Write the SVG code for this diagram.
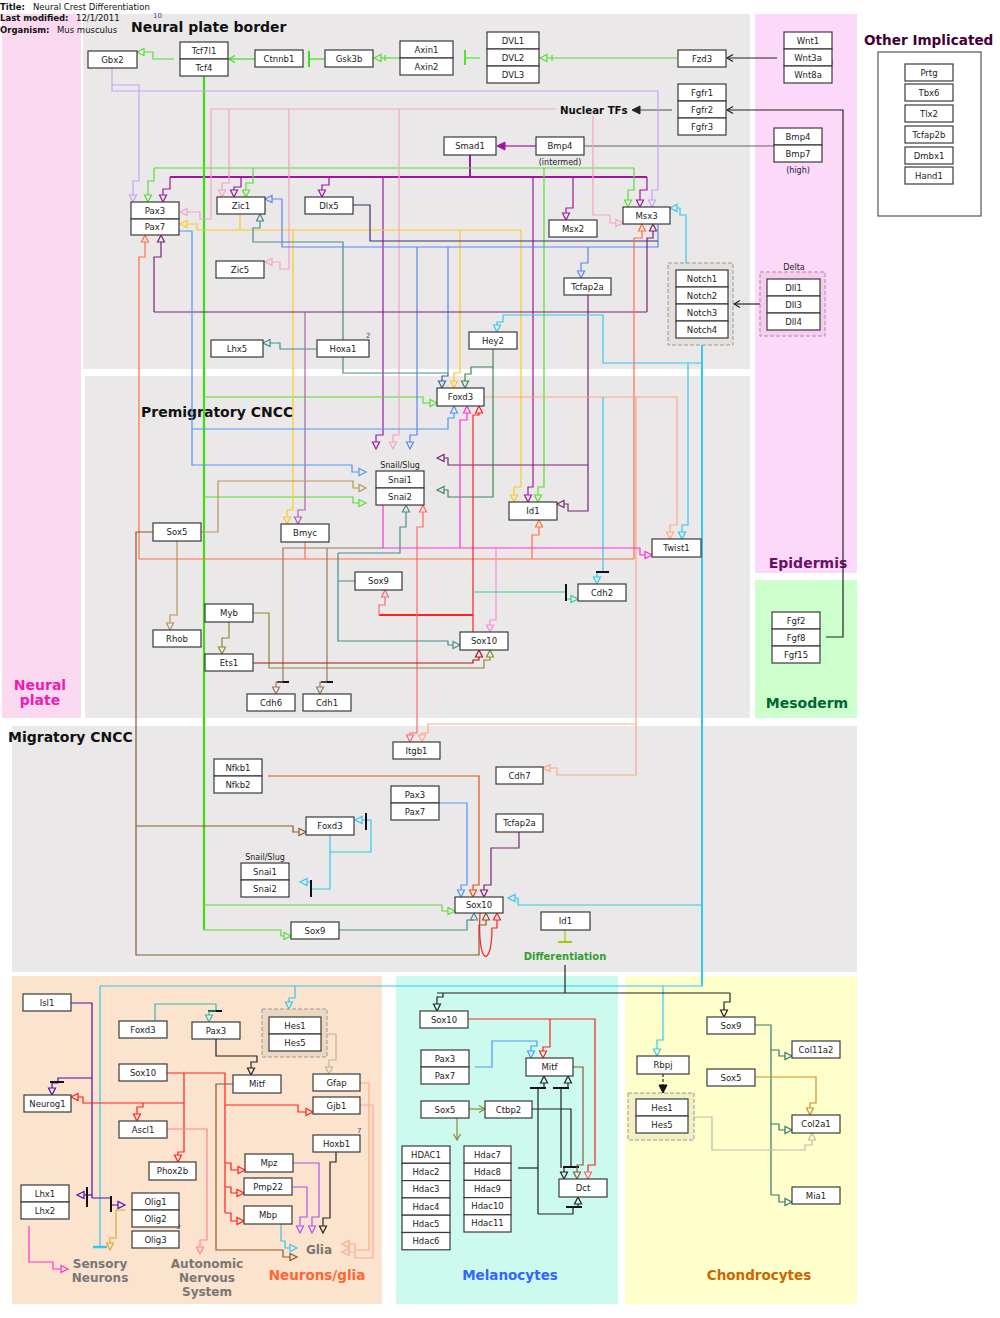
<svg xmlns="http://www.w3.org/2000/svg" xmlns:xlink="http://www.w3.org/1999/xlink" width="1000" height="1318" viewBox="0 0 1000 1318">
<style>
  .bg{stroke:none}
  .b{fill:#fff;stroke:#3a3a3a;stroke-width:1.2}
  .grp{stroke:#999;stroke-width:1;stroke-dasharray:4,2}
  .l{font-family:"DejaVu Sans",sans-serif;font-size:8.5px;fill:#222;text-anchor:middle}
  .s{font-family:"DejaVu Sans",sans-serif;font-size:8px;fill:#222;text-anchor:middle}
  .num{font-family:"DejaVu Sans",sans-serif;font-size:7px;fill:#4444aa}
  .h{font-family:"DejaVu Sans",sans-serif;font-size:8.5px;fill:#111}
  .hb{font-weight:bold}
  .t{font-family:"DejaVu Sans",sans-serif;font-size:14px;font-weight:bold;fill:#111}
  .big{font-family:"DejaVu Sans",sans-serif;font-weight:bold;text-anchor:middle}
  .w{fill:none;stroke-width:1.2}
  .a{fill:none;stroke-width:1.2}
  .tb{stroke:#111;stroke-width:2}
  .k-grn{stroke:#55e033}.k-gtr{stroke:#3ddc14}.k-lav{stroke:#c8a2f2}.k-pnk{stroke:#f4a3c6}
  .k-pur{stroke:#a0179f}.k-dpu{stroke:#7b2377}.k-mau{stroke:#a866a8}.k-yel{stroke:#ffc81e}
  .k-tea{stroke:#4a8c8c}.k-stl{stroke:#2f6b9a}.k-blu{stroke:#5b85f0}.k-lbl{stroke:#4a9af5}
  .k-nav{stroke:#333377}.k-ora{stroke:#ff7043}.k-pch{stroke:#ffa883}.k-cya{stroke:#33c8f0}
  .k-dgr{stroke:#3a8a5a}.k-mag{stroke:#ff33cc}.k-lpk{stroke:#ff88dd}.k-red{stroke:#ff2020}
  .k-lrd{stroke:#ff6a6a}.k-tan{stroke:#b8935e}.k-brn{stroke:#8b5a2b}.k-bgr{stroke:#9a7a5a}
  .k-oli{stroke:#8a8a30}.k-drd{stroke:#b01515}.k-tgr{stroke:#33cc99}.k-ind{stroke:#4b10b0}
  .k-gld{stroke:#ddaa33}.k-apk{stroke:#ff8899}.k-vio{stroke:#a855f7}.k-blk{stroke:#222}
  .k-gyt{stroke:#c0b496}.k-ctl{stroke:#2f7a6a}.k-cgd{stroke:#cc9033}.k-nfk{stroke:#dd5511}
  .k-ygr{stroke:#a6c800}.k-gry{stroke:#666}.k-fte{stroke:#33bbaa}.k-pc2{stroke:#ffa899}
</style>
<defs>
  <!-- open triangle heads, tip at origin -->
  <path id="ad" d="M0,0 L-3.5,-7 L3.5,-7 Z"/>
  <path id="au" d="M0,0 L-3.5,7 L3.5,7 Z"/>
  <path id="ar" d="M0,0 L-7,-3.5 L-7,3.5 Z"/>
  <path id="al" d="M0,0 L7,-3.5 L7,3.5 Z"/>
  <!-- line (chevron) heads -->
  <path id="cl" d="M6,-3.5 L0,0 L6,3.5"/>
  <path id="cr" d="M-6,-3.5 L0,0 L-6,3.5"/>
  <path id="cd" d="M-3.5,-6 L0,0 L3.5,-6"/>
  <!-- filled heads -->
  <path id="fl" d="M0,0 L8,-4 L8,4 Z"/>
  <path id="fd" d="M0,0 L-4,-8 L4,-8 Z"/>
</defs>

<!-- ===== compartments ===== -->
<g id="compartments">
  <rect class="bg" x="2" y="14" width="79" height="704" fill="#fad9f0"/>
  <rect class="bg" x="83" y="14" width="667" height="355" fill="#ebe8e9"/>
  <rect class="bg" x="85" y="376" width="665" height="342" fill="#ebe8e9"/>
  <rect class="bg" x="755" y="14" width="102" height="559" fill="#fcd8fa"/>
  <rect class="bg" x="755" y="580" width="102" height="138" fill="#ccffcc"/>
  <rect class="bg" x="12" y="726" width="845" height="246" fill="#ebe8e9"/>
  <rect class="bg" x="12" y="976" width="370" height="328" fill="#fbe3cd"/>
  <rect class="bg" x="396" y="976" width="222" height="328" fill="#ccfaee"/>
  <rect class="bg" x="625" y="976" width="232" height="328" fill="#ffffcc"/>
</g>

<!-- ===== header and compartment labels ===== -->
<g id="labels">
  <text class="h" x="0" y="10"><tspan class="hb">Title:</tspan><tspan x="33">Neural Crest Differentiation</tspan></text>
  <text class="h" x="0" y="21"><tspan class="hb">Last modified:</tspan><tspan x="76">12/1/2011</tspan></text>
  <text class="h" x="0" y="33"><tspan class="hb">Organism:</tspan><tspan x="57">Mus musculus</tspan></text>
  <text class="num" x="153" y="18">10</text>
  <text class="t" x="131" y="32">Neural plate border</text>
  <text class="t" x="141" y="417">Premigratory CNCC</text>
  <text class="t" x="8" y="742">Migratory CNCC</text>
  <text class="t" x="864" y="45" style="fill:#440033;font-size:13.6px">Other Implicated</text>
  <text class="big" x="40" y="690" font-size="14" fill="#f01ab4">Neural</text>
  <text class="big" x="40" y="705" font-size="14" fill="#f01ab4">plate</text>
  <text class="big" x="808" y="568" font-size="14" fill="#661166">Epidermis</text>
  <text class="big" x="807" y="708" font-size="14" fill="#006633">Mesoderm</text>
  <text class="big" x="565" y="960" font-size="10" fill="#2ea02e">Differentiation</text>
  <text class="big" x="100" y="1268" font-size="12" fill="#777">Sensory</text>
  <text class="big" x="100" y="1282" font-size="12" fill="#777">Neurons</text>
  <text class="big" x="207" y="1268" font-size="12" fill="#777">Autonomic</text>
  <text class="big" x="207" y="1282" font-size="12" fill="#777">Nervous</text>
  <text class="big" x="207" y="1296" font-size="12" fill="#777">System</text>
  <text class="big" x="319" y="1254" font-size="12" fill="#777">Glia</text>
  <text class="big" x="317" y="1280" font-size="13.5" fill="#ff6633">Neurons/glia</text>
  <text class="big" x="510" y="1280" font-size="13.5" fill="#3366ff">Melanocytes</text>
  <text class="big" x="759" y="1280" font-size="13.5" fill="#cc6600">Chondrocytes</text>
  <text class="t" x="560" y="114" style="font-size:10.2px">Nuclear TFs</text>
  <text class="s" x="560" y="165">(intermed)</text>
  <text class="s" x="798" y="173">(high)</text>
  <text class="s" x="794" y="270">Delta</text>
  <text class="s" x="400" y="468">Snail/Slug</text>
  <text class="s" x="265" y="860">Snail/Slug</text>
  <text class="num" x="829" y="64">4</text>
  <text class="num" x="366" y="338">2</text>
  <text class="num" x="950" y="61">5</text>
  <text class="num" x="950" y="82">8</text>
  <text class="num" x="950" y="103">3</text>
  <text class="num" x="950" y="124">1</text>
  <text class="num" x="950" y="145">5</text>
  <text class="num" x="950" y="166">6</text>
  <text class="num" x="357" y="1133">7</text>
  <text class="num" x="176" y="1229">9</text>
</g>

<!-- ===== connectors ===== -->
<g id="connectors">
  <!-- Wnt pathway -->
  <path class="w k-grn" d="M174,59 H153 V52 H144"/><use href="#al" x="137" y="52" class="a k-grn"/>
  <path class="w k-gtr" d="M255,59 H229"/><use href="#cl" x="229" y="59" class="a k-gtr"/>
  <path class="w k-gtr" d="M325,59 H309"/><line x1="309" y1="51" x2="309" y2="67" stroke="#3ddc14" stroke-width="2"/>
  <path class="w k-grn" d="M400,58 H381"/><use href="#al" x="374" y="58" class="a k-grn"/><line x1="385" y1="55" x2="385" y2="61" class="w k-grn"/>
  <path class="w k-grn" d="M480,58 H466"/><line x1="465" y1="50" x2="465" y2="65" stroke="#55e033" stroke-width="2"/>
  <path class="w k-grn" d="M678,58 H547"/><use href="#al" x="540" y="58" class="a k-grn"/><line x1="552" y1="55" x2="552" y2="61" class="w k-grn"/>
  <path class="w k-blk" d="M777,58 H727"/><use href="#cl" x="727" y="58" class="a k-blk"/>
  <path class="w k-blk" d="M826,637 H843 V110 H727"/><use href="#cl" x="727" y="110" class="a k-blk"/>
  <path class="w k-gry" d="M672,110 H640"/><use href="#fl" x="632" y="110" fill="#222" stroke="#222"/>
  <path class="w k-gry" d="M774,146 H584"/>
  <path class="w k-pur" d="M536,146 H505"/><use href="#fl" x="497" y="146" fill="#a0179f" stroke="#a0179f"/>
  <path class="w k-blk" d="M760,304 H734"/><use href="#cl" x="734" y="304" class="a k-blk"/>

  <!-- Smad1 targets -->
  <path class="w k-pur" style="stroke-width:2" d="M470,155 V177 M170,177 H647"/>
  <path class="w k-pur" d="M170,177 V189 H163 V195"/><use href="#ad" x="163" y="202" class="a k-pur"/>
  <path class="w k-pur" d="M241,177 V187 H234 V190"/><use href="#ad" x="234" y="197" class="a k-pur"/>
  <path class="w k-pur" d="M329,177 V185 H322 V190"/><use href="#ad" x="322" y="197" class="a k-pur"/>
  <path class="w k-pur" d="M573,177 V208 H566 V213"/><use href="#ad" x="566" y="220" class="a k-pur"/>
  <path class="w k-pur" d="M647,177 V190 H640 V200"/><use href="#ad" x="640" y="207" class="a k-pur"/>
  <path class="w k-pur" d="M383,177 V435 H376 V442"/><use href="#ad" x="376" y="449" class="a k-pur"/>
  <path class="w k-pur" d="M533,177 V487 H528 V495"/><use href="#ad" x="528" y="502" class="a k-pur"/>

  <!-- canonical Wnt output (Tcf) -->
  <path class="w k-gtr" style="stroke-width:2.2" d="M204,76 V930"/>
  <path class="w k-grn" d="M154,168 H634"/>
  <path class="w k-grn" d="M154,168 V181 H148 V195"/><use href="#ad" x="148" y="202" class="a k-grn"/>
  <path class="w k-grn" d="M253,168 V183 H246 V190"/><use href="#ad" x="246" y="197" class="a k-grn"/>
  <path class="w k-grn" d="M634,168 V190 H628 V200"/><use href="#ad" x="628" y="207" class="a k-grn"/>
  <path class="w k-grn" d="M544,168 V487 H538 V495"/><use href="#ad" x="538" y="502" class="a k-grn"/>
  <path class="w k-grn" d="M204,397 H423 V403 H430"/><use href="#ar" x="437" y="403" class="a k-grn"/>
  <path class="w k-grn" d="M204,497 H353 V503 H359"/><use href="#ar" x="366" y="503" class="a k-grn"/>
  <path class="w k-grn" d="M204,905 H442 V911 H448"/><use href="#ar" x="455" y="911" class="a k-grn"/>
  <path class="w k-grn" d="M204,930 H281 V936 H284"/><use href="#ar" x="291" y="936" class="a k-grn"/>

  <!-- Gbx2 -->
  <path class="w k-lav" d="M112,68 V91 H658 V190 H652 V200"/><use href="#ad" x="652" y="207" class="a k-lav"/>
  <path class="w k-lav" d="M112,85 H139 V181 H133 V195"/><use href="#ad" x="133" y="202" class="a k-lav"/>

  <!-- Nuclear TFs -->
  <path class="w k-pnk" d="M556,109 H211 V219 H200 V212 H187"/><use href="#al" x="180" y="212" class="a k-pnk"/>
  <path class="w k-pnk" d="M229,109 V183 H222 V190"/><use href="#ad" x="222" y="197" class="a k-pnk"/>
  <path class="w k-pnk" d="M289,109 V269 H280 V262 H272"/><use href="#al" x="265" y="262" class="a k-pnk"/>
  <path class="w k-pnk" d="M399,109 V435 H393 V442"/><use href="#ad" x="393" y="449" class="a k-pnk"/>
  <path class="w k-pnk" d="M593,116 V215 H610 V223 H616"/><use href="#ar" x="623" y="223" class="a k-pnk"/>

  <!-- Zic1 -->
  <path class="w k-yel" d="M240,214 V230 M197,230 H521"/>
  <path class="w k-yel" d="M197,230 V224 H187"/><use href="#al" x="180" y="224" class="a k-yel"/>
  <path class="w k-yel" d="M293,230 V510 H287 V517"/><use href="#ad" x="287" y="524" class="a k-yel"/>
  <path class="w k-yel" d="M460,230 V373 H454 V381"/><use href="#ad" x="454" y="388" class="a k-yel"/>
  <path class="w k-yel" d="M521,230 V487 H514 V495"/><use href="#ad" x="514" y="502" class="a k-yel"/>

  <!-- Hoxa1 -->
  <path class="w k-tea" d="M343,340 V242 H253 V228 H260 V221"/><use href="#au" x="260" y="214" class="a k-tea"/>
  <path class="w k-tea" d="M317,349 H280 V343 H270"/><use href="#al" x="263" y="343" class="a k-tea"/>
  <path class="w k-tea" d="M343,357 V373 H448"/>

  <!-- Msx3 / Dlx5 -->
  <path class="w k-blu" d="M658,224 V247 H282 V199 H272"/><use href="#al" x="265" y="199" class="a k-blu"/>
  <path class="w k-blu" d="M417,247 V435 H410 V442"/><use href="#ad" x="410" y="449" class="a k-blu"/>
  <path class="w k-blu" d="M588,247 V263 H581 V271"/><use href="#ad" x="581" y="278" class="a k-blu"/>
  <path class="w k-blu" d="M448,247 V373"/>
  <path class="w k-stl" d="M448,373 V376 H442 V381"/><use href="#ad" x="442" y="388" class="a k-stl"/>
  <path class="w k-nav" d="M353,205 H370 V241 H658"/>

  <!-- Tcfap2a -->
  <path class="w k-dpu" d="M588,295 V511 H568 V504 H564"/><use href="#al" x="557" y="504" class="a k-dpu"/>
  <path class="w k-dpu" d="M588,465 H448 V458 H444"/><use href="#al" x="437" y="458" class="a k-dpu"/>
  <path class="w k-dpu" d="M154,312 H647"/>
  <path class="w k-dpu" d="M154,312 V257 H161 V242"/><use href="#au" x="161" y="235" class="a k-dpu"/>
  <path class="w k-dpu" d="M647,312 V238 H653 V231"/><use href="#au" x="653" y="224" class="a k-dpu"/>
  <path class="w k-mau" d="M305,312 V510 H298 V517"/><use href="#ad" x="298" y="524" class="a k-mau"/>

  <!-- Bmyc -->
  <path class="w k-ora" d="M305,542 V559 M139,559 H634"/>
  <path class="w k-ora" d="M139,559 V257 H145 V242"/><use href="#au" x="145" y="235" class="a k-ora"/>
  <path class="w k-ora" d="M634,559 V238 H642 V231"/><use href="#au" x="642" y="224" class="a k-ora"/>
  <path class="w k-ora" d="M532,559 V535 H539 V527"/><use href="#au" x="539" y="520" class="a k-ora"/>

  <!-- Foxd3 -->
  <path class="w k-pch" d="M484,397 H677 V525 H670 V532"/><use href="#ad" x="670" y="539" class="a k-pch"/>
  <path class="w k-pch" d="M636,397 V724 H428 V733 H422 V735"/><use href="#ad" x="422" y="742" class="a k-pch"/>
  <path class="w k-pch" d="M636,724 V775 H557 V768 H550"/><use href="#al" x="543" y="768" class="a k-pch"/>
  <path class="w k-cya" d="M603,397 V572 H597 V577"/><use href="#ad" x="597" y="584" class="a k-cya"/>
  <line class="tb" x1="596" y1="572" x2="609" y2="572"/>

  <!-- Notch -->
  <path class="w k-cya" style="stroke-width:2" d="M702,345 V986"/>
  <path class="w k-cya" d="M686,263 V215 H680 V208 H677"/><use href="#al" x="670" y="208" class="a k-cya"/>
  <path class="w k-cya" d="M702,363 H603 V315 H503 V322 H497 V325"/><use href="#ad" x="497" y="332" class="a k-cya"/>
  <path class="w k-cya" d="M688,363 V525 H682 V532"/><use href="#ad" x="682" y="539" class="a k-cya"/>
  <path class="w k-cya" d="M702,905 H518 V898 H515"/><use href="#al" x="508" y="898" class="a k-cya"/>
  <path class="w k-cya" d="M100,986 H702"/>
  <path class="w k-cya" d="M100,986 V1247"/><line x1="93" y1="1247" x2="107" y2="1247" stroke="#33c8f0" stroke-width="2.5"/>
  <path class="w k-cya" d="M295,986 V998 H289 V1002"/><use href="#ad" x="289" y="1009" class="a k-cya"/>
  <path class="w k-cya" d="M663,986 V1040 H657 V1049"/><use href="#ad" x="657" y="1056" class="a k-cya"/>

  <!-- Hey2 -->
  <path class="w k-dgr" d="M493,349 V367 H471 V374 H465 V381"/><use href="#ad" x="465" y="388" class="a k-dgr"/>
  <path class="w k-dgr" d="M493,367 V497 H448 V490 H444"/><use href="#al" x="437" y="490" class="a k-dgr"/>

  <!-- Pax3/Pax7 -->
  <path class="w k-lbl" d="M179,231 H192 V465 H352 V472 H359"/><use href="#ar" x="366" y="472" class="a k-lbl"/>
  <path class="w k-lbl" d="M192,429 H448 V418 H454 V413"/><use href="#au" x="454" y="406" class="a k-lbl"/>

  <!-- Snail/Slug -->
  <path class="w k-mag" d="M383,505 V548 H640 V555 H645"/><use href="#ar" x="652" y="555" class="a k-mag"/>
  <path class="w k-mag" d="M460,548 V420 H467 V413"/><use href="#au" x="467" y="406" class="a k-mag"/>
  <path class="w k-lpk" d="M496,548 V620 H490 V625"/><use href="#ad" x="490" y="632" class="a k-lpk"/>
  <path class="w k-bgr" d="M383,548 H283 V682"/><line class="tb" x1="277" y1="682" x2="289" y2="682"/>
  <path class="w k-bgr" d="M283,682 H276 V687"/><use href="#ad" x="276" y="694" class="a k-bgr"/>
  <path class="w k-bgr" d="M327,548 V682"/><line class="tb" x1="321" y1="682" x2="333" y2="682"/>
  <path class="w k-bgr" d="M327,682 H320 V687"/><use href="#ad" x="320" y="694" class="a k-bgr"/>

  <!-- Sox10 (premigratory) -->
  <path class="w k-red" d="M473,632 V415 H479 V413"/><use href="#au" x="479" y="406" class="a k-red"/>
  <path class="w k-red" style="stroke-width:2" d="M379,615 H473"/>
  <path class="w k-lrd" d="M379,615 V605 H385 V597"/><use href="#au" x="385" y="590" class="a k-lrd"/>
  <path class="w k-lrd" d="M417,615 V527 H423 V512"/><use href="#au" x="423" y="505" class="a k-lrd"/>
  <path class="w k-lrd" d="M417,615 V733 H410 V735"/><use href="#ad" x="410" y="742" class="a k-lrd"/>
  <path class="w k-tgr" d="M473,592 H566 M566,599 H571"/><use href="#ar" x="578" y="599" class="a k-tgr"/>
  <line class="tb" x1="566" y1="584" x2="566" y2="601"/>

  <!-- Sox9 (premigratory) -->
  <path class="w k-tea" d="M355,581 H338 M338,553 V641 H448 V645 H453"/><use href="#ar" x="460" y="645" class="a k-tea"/>
  <path class="w k-tea" d="M338,553 H400 V527 H406 V512"/><use href="#au" x="406" y="505" class="a k-tea"/>

  <!-- Sox5 -->
  <path class="w k-tan" d="M201,532 H218 V481 H353 V488 H359"/><use href="#ar" x="366" y="488" class="a k-tan"/>
  <path class="w k-tan" d="M177,541 V615 H170 V623"/><use href="#ad" x="170" y="630" class="a k-tan"/>
  <path class="w k-brn" d="M153,532 H136 V955 H479 V925 H486 V920"/><use href="#au" x="486" y="913" class="a k-brn"/>
  <path class="w k-brn" d="M136,826 H293 V832 H299"/><use href="#ar" x="306" y="832" class="a k-brn"/>

  <!-- Myb / Ets1 -->
  <path class="w k-oli" d="M229,622 V638 H222 V647"/><use href="#ad" x="222" y="654" class="a k-oli"/>
  <path class="w k-oli" d="M253,613 H269 V668 H484 V660 H490 V657"/><use href="#au" x="490" y="650" class="a k-oli"/>
  <path class="w k-drd" d="M253,663 H473 V660 H479 V657"/><use href="#au" x="479" y="650" class="a k-drd"/>

  <!-- Sox10 (migratory) inputs -->
  <path class="w k-tea" d="M339,930 H467 V920 H474"/><use href="#au" x="474" y="913" class="a k-tea"/>
  <path class="w k-lbl" d="M439,803 H467 V885 H461 V890"/><use href="#ad" x="461" y="897" class="a k-lbl"/>
  <path class="w k-nfk" d="M268,776 H479 V885 H473 V890"/><use href="#ad" x="473" y="897" class="a k-nfk"/>
  <path class="w k-dpu" d="M519,832 V848 H491 V885 H484 V890"/><use href="#ad" x="484" y="897" class="a k-dpu"/>
  <path class="w k-red" d="M480,913 C477,968 492,968 492,928 H497 V920"/><use href="#au" x="497" y="913" class="a k-red"/>

  <!-- Foxd3 (migratory) -->
  <path class="w k-cya" d="M330,835 V852 H371 V820 H362"/><use href="#al" x="355" y="820" class="a k-cya"/>
  <line class="tb" x1="366" y1="813" x2="366" y2="830"/>
  <path class="w k-cya" d="M330,852 V889 H311 V882 H307"/><use href="#al" x="300" y="882" class="a k-cya"/>
  <line class="tb" x1="311" y1="880" x2="311" y2="897"/>

  <!-- Id1 and differentiation -->
  <path class="w k-ygr" d="M565,930 V942"/><line x1="558" y1="942" x2="572" y2="942" stroke="#a6c800" stroke-width="2"/>
  <path class="w k-blk" d="M565,965 V993 M437,993 H730"/>
  <path class="w k-blk" d="M443,993 V997 H437 V1004"/><use href="#ad" x="437" y="1011" class="a k-blk"/>
  <path class="w k-blk" d="M730,993 V1002 H724 V1010"/><use href="#ad" x="724" y="1017" class="a k-blk"/>

  <!-- Neurons / glia -->
  <path class="w k-ind" d="M71,1003 H92 V1198"/>
  <path class="w k-ind" d="M92,1078 H58 V1083 H52 V1088"/><use href="#ad" x="52" y="1095" class="a k-ind"/>
  <line class="tb" x1="50" y1="1082" x2="64" y2="1082"/>
  <path class="w k-ind" d="M92,1195 H84"/><use href="#al" x="77" y="1195" class="a k-ind"/>
  <line class="tb" x1="87" y1="1187" x2="87" y2="1207"/>
  <path class="w k-ind" d="M92,1198 H111 V1205 H118"/><use href="#ar" x="125" y="1205" class="a k-ind"/>
  <line class="tb" x1="111" y1="1196" x2="111" y2="1212"/>
  <path class="w k-gld" d="M125,1210 H116 V1238 H110 V1243"/><use href="#ad" x="110" y="1250" class="a k-gld"/>
  <path class="w k-mag" d="M29,1226 V1262 H53 V1269 H61"/><use href="#ar" x="68" y="1269" class="a k-mag"/>
  <path class="w k-fte" d="M155,1021 V1004 H216 V1011"/><line class="tb" x1="208" y1="1011" x2="222" y2="1011"/>
  <path class="w k-fte" d="M216,1011 H209 V1015"/><use href="#ad" x="209" y="1022" class="a k-fte"/>
  <path class="w k-blk" d="M216,1039 V1056 H257 V1062 H251 V1068"/><use href="#ad" x="251" y="1075" class="a k-blk"/>
  <path class="w k-gyt" d="M327,1034 H336 V1060 H329 V1067"/><use href="#ad" x="329" y="1074" class="a k-gyt"/>
  <path class="w k-red" d="M167,1073 H225 V1213"/>
  <path class="w k-red" d="M184,1073 V1152 H178 V1155"/><use href="#ad" x="178" y="1162" class="a k-red"/>
  <path class="w k-red" d="M184,1103 H83 V1097 H78"/><use href="#al" x="71" y="1097" class="a k-red"/>
  <path class="w k-red" d="M143,1103 V1107 H137 V1114"/><use href="#ad" x="137" y="1121" class="a k-red"/>
  <path class="w k-red" d="M225,1105 H298 V1112 H306"/><use href="#ar" x="313" y="1112" class="a k-red"/>
  <path class="w k-red" d="M225,1163 H231 V1170 H238"/><use href="#ar" x="245" y="1170" class="a k-red"/>
  <path class="w k-red" d="M225,1187 H231 V1193 H237"/><use href="#ar" x="244" y="1193" class="a k-red"/>
  <path class="w k-red" d="M225,1213 H231 V1221 H237"/><use href="#ar" x="244" y="1221" class="a k-red"/>
  <path class="w k-brn" d="M233,1084 H216 V1250 H283 V1257 H290"/><use href="#ar" x="297" y="1257" class="a k-brn"/>
  <path class="w k-apk" d="M167,1129 H207 V1240 H200 V1247"/><use href="#ad" x="200" y="1254" class="a k-apk"/>
  <path class="w k-vio" d="M293,1163 H319 V1217 H312 V1226"/><use href="#ad" x="312" y="1233" class="a k-vio"/>
  <path class="w k-vio" d="M292,1187 H307 V1217 H300 V1226"/><use href="#ad" x="300" y="1233" class="a k-vio"/>
  <path class="w k-blk" d="M336,1152 V1162 H330 V1218 H323 V1226"/><use href="#ad" x="323" y="1233" class="a k-blk"/>
  <path class="w k-cya" d="M281,1224 V1241 H285 V1248 H290"/><use href="#ar" x="297" y="1248" class="a k-cya"/>
  <path class="w k-pch" d="M360,1083 H369 V1250 H355 V1244 H349"/><use href="#al" x="342" y="1244" class="a k-pch"/>
  <path class="w k-pc2" d="M360,1105 H373 V1258 H355 V1252 H349"/><use href="#al" x="342" y="1252" class="a k-pc2"/>

  <!-- Melanocytes -->
  <path class="w k-red" d="M468,1019 H595 V1165 H588 V1172"/><use href="#ad" x="588" y="1179" class="a k-lrd"/>
  <path class="w k-red" d="M550,1019 V1047 H543 V1051"/><use href="#ad" x="543" y="1058" class="a k-red"/>
  <path class="w k-lbl" d="M475,1067 H492 V1041 H537 V1046 H531 V1051"/><use href="#ad" x="531" y="1058" class="a k-lbl"/>
  <path class="w k-oli" d="M469,1109 H485"/><use href="#cr" x="485" y="1109" class="a k-oli"/>
  <path class="w k-oli" d="M457,1118 V1140"/><use href="#cd" x="457" y="1140" class="a k-oli"/>
  <path class="w k-blk" d="M532,1109 H571 V1167 M571,1167 H564 V1172"/><use href="#ad" x="564" y="1179" class="a k-blk"/>
  <line class="tb" x1="563" y1="1167" x2="579" y2="1167"/>
  <path class="w k-blk" d="M518,1168 H538"/>
  <path class="w k-blk" d="M538,1214 V1088 H544 V1083"/><use href="#au" x="544" y="1076" class="a k-blk"/>
  <line class="tb" x1="530" y1="1088" x2="546" y2="1088"/>
  <path class="w k-blk" d="M561,1168 V1088 H568 V1083"/><use href="#au" x="568" y="1076" class="a k-blk"/>
  <line class="tb" x1="553" y1="1088" x2="569" y2="1088"/>
  <path class="w k-blk" d="M538,1214 H573 V1207 H578 V1204"/><use href="#au" x="578" y="1197" class="a k-blk"/>
  <line class="tb" x1="566" y1="1207" x2="582" y2="1207"/>
  <path class="w k-brn" d="M573,1067 H583 V1165 H577 V1172"/><use href="#ad" x="577" y="1179" class="a k-brn"/>

  <!-- Chondrocytes -->
  <path class="w k-ctl" d="M755,1025 H771 V1195"/>
  <path class="w k-ctl" d="M771,1050 H779 V1056 H785"/><use href="#ar" x="792" y="1056" class="a k-ctl"/>
  <path class="w k-ctl" d="M771,1124 H779 V1130 H785"/><use href="#ar" x="792" y="1130" class="a k-ctl"/>
  <path class="w k-ctl" d="M771,1195 H779 V1202 H785"/><use href="#ar" x="792" y="1202" class="a k-ctl"/>
  <path class="w k-cgd" d="M755,1077 H816 V1103 H810 V1108"/><use href="#ad" x="810" y="1115" class="a k-cgd"/>
  <path class="w" stroke="#bbbbaa" d="M694,1117 H712 V1150 H805 V1145 H812 V1140"/><use href="#au" x="812" y="1133" class="a" stroke="#bbbbaa"/>
  <path class="w k-blk" stroke-dasharray="3,2" d="M663,1074 V1085"/><use href="#fd" x="663" y="1093" fill="#111" stroke="#111"/>
</g>

<!-- ===== nodes ===== -->
<g id="n-gbx2"><rect class="b" x="88" y="51" width="49" height="17"/><text class="l" x="112.5" y="62.5">Gbx2</text></g>
<g id="n-tcf"><rect class="b" x="180" y="42" width="48" height="17"/><text class="l" x="204" y="53.5">Tcf7l1</text><rect class="b" x="180" y="59" width="48" height="17"/><text class="l" x="204" y="70.5">Tcf4</text></g>
<g id="n-ctnnb1"><rect class="b" x="255" y="50" width="48" height="17"/><text class="l" x="279" y="61.5">Ctnnb1</text></g>
<g id="n-gsk3b"><rect class="b" x="325" y="50" width="48" height="17"/><text class="l" x="349" y="61.5">Gsk3b</text></g>
<g id="n-axin"><rect class="b" x="400" y="41" width="53" height="17"/><text class="l" x="426.5" y="52.5">Axin1</text><rect class="b" x="400" y="58" width="53" height="17"/><text class="l" x="426.5" y="69.5">Axin2</text></g>
<g id="n-dvl"><rect class="b" x="487" y="32" width="52" height="17"/><text class="l" x="513" y="43.5">DVL1</text><rect class="b" x="487" y="49" width="52" height="17"/><text class="l" x="513" y="60.5">DVL2</text><rect class="b" x="487" y="66" width="52" height="17"/><text class="l" x="513" y="77.5">DVL3</text></g>
<g id="n-fzd3"><rect class="b" x="678" y="50" width="48" height="17"/><text class="l" x="702" y="61.5">Fzd3</text></g>
<g id="n-wnt"><rect class="b" x="784" y="32" width="48" height="17"/><text class="l" x="808" y="43.5">Wnt1</text><rect class="b" x="784" y="49" width="48" height="17"/><text class="l" x="808" y="60.5">Wnt3a</text><rect class="b" x="784" y="66" width="48" height="17"/><text class="l" x="808" y="77.5">Wnt8a</text></g>
<g id="n-fgfr"><rect class="b" x="678" y="84" width="48" height="17"/><text class="l" x="702" y="95.5">Fgfr1</text><rect class="b" x="678" y="101" width="48" height="17"/><text class="l" x="702" y="112.5">Fgfr2</text><rect class="b" x="678" y="118" width="48" height="17"/><text class="l" x="702" y="129.5">Fgfr3</text></g>
<g id="n-bmp47"><rect class="b" x="774" y="128" width="48" height="17"/><text class="l" x="798" y="139.5">Bmp4</text><rect class="b" x="774" y="145" width="48" height="17"/><text class="l" x="798" y="156.5">Bmp7</text></g>
<g id="n-smad1"><rect class="b" x="444" y="137" width="52" height="18"/><text class="l" x="470" y="149">Smad1</text></g>
<g id="n-bmp4i"><rect class="b" x="536" y="137" width="48" height="18"/><text class="l" x="560" y="149">Bmp4</text></g>
<g id="n-pax37"><rect class="b" x="131" y="202" width="48" height="17"/><text class="l" x="155" y="213.5">Pax3</text><rect class="b" x="131" y="219" width="48" height="16"/><text class="l" x="155" y="230">Pax7</text></g>
<g id="n-zic1"><rect class="b" x="217" y="197" width="48" height="17"/><text class="l" x="241" y="208.5">Zic1</text></g>
<g id="n-dlx5"><rect class="b" x="305" y="197" width="48" height="17"/><text class="l" x="329" y="208.5">Dlx5</text></g>
<g id="n-msx2"><rect class="b" x="549" y="220" width="48" height="17"/><text class="l" x="573" y="231.5">Msx2</text></g>
<g id="n-msx3"><rect class="b" x="623" y="207" width="47" height="17"/><text class="l" x="646.5" y="218.5">Msx3</text></g>
<g id="n-zic5"><rect class="b" x="216" y="261" width="48" height="17"/><text class="l" x="240" y="272.5">Zic5</text></g>
<g id="n-tcfap2a"><rect class="b" x="564" y="278" width="47" height="17"/><text class="l" x="587.5" y="289.5">Tcfap2a</text></g>
<g id="n-notch"><rect class="grp" x="668" y="263" width="65" height="82" fill="#e4e1dc"/>
  <rect class="b" x="676" y="270" width="52" height="17"/><text class="l" x="702" y="281.5">Notch1</text>
  <rect class="b" x="676" y="287" width="52" height="17"/><text class="l" x="702" y="298.5">Notch2</text>
  <rect class="b" x="676" y="304" width="52" height="17"/><text class="l" x="702" y="315.5">Notch3</text>
  <rect class="b" x="676" y="321" width="52" height="17"/><text class="l" x="702" y="332.5">Notch4</text></g>
<g id="n-delta"><rect class="grp" x="760" y="272" width="65" height="64" fill="#f6cdf1"/>
  <rect class="b" x="767" y="279" width="53" height="17"/><text class="l" x="793.5" y="290.5">Dll1</text>
  <rect class="b" x="767" y="296" width="53" height="17"/><text class="l" x="793.5" y="307.5">Dll3</text>
  <rect class="b" x="767" y="313" width="53" height="17"/><text class="l" x="793.5" y="324.5">Dll4</text></g>
<g id="n-lhx5"><rect class="b" x="211" y="340" width="52" height="17"/><text class="l" x="237" y="351.5">Lhx5</text></g>
<g id="n-hoxa1"><rect class="b" x="317" y="340" width="52" height="17"/><text class="l" x="343" y="351.5">Hoxa1</text></g>
<g id="n-hey2"><rect class="b" x="469" y="332" width="48" height="17"/><text class="l" x="493" y="343.5">Hey2</text></g>

<g id="n-foxd3"><rect class="b" x="437" y="388" width="47" height="18"/><text class="l" x="460.5" y="400">Foxd3</text></g>
<g id="n-snail"><rect class="b" x="376" y="471" width="48" height="17"/><text class="l" x="400" y="482.5">Snai1</text><rect class="b" x="376" y="488" width="48" height="17"/><text class="l" x="400" y="499.5">Snai2</text></g>
<g id="n-id1"><rect class="b" x="509" y="502" width="48" height="18"/><text class="l" x="533" y="514">Id1</text></g>
<g id="n-twist1"><rect class="b" x="652" y="539" width="49" height="18"/><text class="l" x="676.5" y="551">Twist1</text></g>
<g id="n-cdh2"><rect class="b" x="578" y="584" width="48" height="17"/><text class="l" x="602" y="595.5">Cdh2</text></g>
<g id="n-sox9"><rect class="b" x="355" y="572" width="47" height="18"/><text class="l" x="378.5" y="584">Sox9</text></g>
<g id="n-sox10"><rect class="b" x="460" y="632" width="48" height="18"/><text class="l" x="484" y="644">Sox10</text></g>
<g id="n-sox5"><rect class="b" x="153" y="523" width="48" height="18"/><text class="l" x="177" y="535">Sox5</text></g>
<g id="n-bmyc"><rect class="b" x="281" y="524" width="48" height="18"/><text class="l" x="305" y="536">Bmyc</text></g>
<g id="n-rhob"><rect class="b" x="153" y="630" width="48" height="17"/><text class="l" x="177" y="641.5">Rhob</text></g>
<g id="n-myb"><rect class="b" x="205" y="604" width="48" height="18"/><text class="l" x="229" y="616">Myb</text></g>
<g id="n-ets1"><rect class="b" x="205" y="654" width="48" height="17"/><text class="l" x="229" y="665.5">Ets1</text></g>
<g id="n-cdh6"><rect class="b" x="247" y="694" width="48" height="17"/><text class="l" x="271" y="705.5">Cdh6</text></g>
<g id="n-cdh1"><rect class="b" x="303" y="694" width="48" height="17"/><text class="l" x="327" y="705.5">Cdh1</text></g>

<g id="n-itgb1"><rect class="b" x="393" y="742" width="47" height="17"/><text class="l" x="416.5" y="753.5">Itgb1</text></g>
<g id="n-nfkb"><rect class="b" x="214" y="759" width="48" height="17"/><text class="l" x="238" y="770.5">Nfkb1</text><rect class="b" x="214" y="776" width="48" height="17"/><text class="l" x="238" y="787.5">Nfkb2</text></g>
<g id="n-cdh7"><rect class="b" x="496" y="767" width="47" height="17"/><text class="l" x="519.5" y="778.5">Cdh7</text></g>
<g id="n-pax37m"><rect class="b" x="391" y="786" width="48" height="17"/><text class="l" x="415" y="797.5">Pax3</text><rect class="b" x="391" y="803" width="48" height="17"/><text class="l" x="415" y="814.5">Pax7</text></g>
<g id="n-tcfap2am"><rect class="b" x="496" y="814" width="47" height="18"/><text class="l" x="519.5" y="826">Tcfap2a</text></g>
<g id="n-foxd3m"><rect class="b" x="306" y="817" width="48" height="18"/><text class="l" x="330" y="829">Foxd3</text></g>
<g id="n-snailm"><rect class="b" x="241" y="863" width="48" height="17"/><text class="l" x="265" y="874.5">Snai1</text><rect class="b" x="241" y="880" width="48" height="17"/><text class="l" x="265" y="891.5">Snai2</text></g>
<g id="n-sox10m"><rect class="b" x="455" y="897" width="48" height="16"/><text class="l" x="479" y="908">Sox10</text></g>
<g id="n-sox9m"><rect class="b" x="291" y="922" width="48" height="17"/><text class="l" x="315" y="933.5">Sox9</text></g>
<g id="n-id1m"><rect class="b" x="541" y="912" width="49" height="18"/><text class="l" x="565.5" y="924">Id1</text></g>

<g id="n-other"><rect x="878" y="52" width="103" height="164" fill="#fff" stroke="#555" stroke-width="1.2"/>
  <rect class="b" x="905" y="64" width="48" height="17"/><text class="l" x="929" y="75.5">Prtg</text>
  <rect class="b" x="905" y="84" width="48" height="17"/><text class="l" x="929" y="95.5">Tbx6</text>
  <rect class="b" x="905" y="105" width="48" height="17"/><text class="l" x="929" y="116.5">Tlx2</text>
  <rect class="b" x="905" y="126" width="48" height="17"/><text class="l" x="929" y="137.5">Tcfap2b</text>
  <rect class="b" x="905" y="147" width="48" height="17"/><text class="l" x="929" y="158.5">Dmbx1</text>
  <rect class="b" x="905" y="167" width="48" height="17"/><text class="l" x="929" y="178.5">Hand1</text></g>
<g id="n-fgf"><rect class="b" x="772" y="612" width="48" height="17"/><text class="l" x="796" y="623.5">Fgf2</text><rect class="b" x="772" y="629" width="48" height="17"/><text class="l" x="796" y="640.5">Fgf8</text><rect class="b" x="772" y="646" width="48" height="17"/><text class="l" x="796" y="657.5">Fgf15</text></g>

<g id="n-isl1"><rect class="b" x="23" y="994" width="48" height="17"/><text class="l" x="47" y="1005.5">Isl1</text></g>
<g id="n-foxd3n"><rect class="b" x="119" y="1021" width="48" height="17"/><text class="l" x="143" y="1032.5">Foxd3</text></g>
<g id="n-pax3n"><rect class="b" x="192" y="1022" width="48" height="17"/><text class="l" x="216" y="1033.5">Pax3</text></g>
<g id="n-hesn"><rect class="grp" x="262" y="1009" width="65" height="48" fill="#ecd8c2"/>
  <rect class="b" x="269" y="1017" width="52" height="17"/><text class="l" x="295" y="1028.5">Hes1</text>
  <rect class="b" x="269" y="1034" width="52" height="17"/><text class="l" x="295" y="1045.5">Hes5</text></g>
<g id="n-sox10n"><rect class="b" x="119" y="1064" width="48" height="17"/><text class="l" x="143" y="1075.5">Sox10</text></g>
<g id="n-mitfn"><rect class="b" x="233" y="1075" width="48" height="18"/><text class="l" x="257" y="1087">Mitf</text></g>
<g id="n-gfap"><rect class="b" x="313" y="1074" width="47" height="17"/><text class="l" x="336.5" y="1085.5">Gfap</text></g>
<g id="n-gjb1"><rect class="b" x="313" y="1097" width="47" height="17"/><text class="l" x="336.5" y="1108.5">Gjb1</text></g>
<g id="n-neurog1"><rect class="b" x="24" y="1095" width="47" height="17"/><text class="l" x="47.5" y="1106.5">Neurog1</text></g>
<g id="n-ascl1"><rect class="b" x="119" y="1121" width="48" height="17"/><text class="l" x="143" y="1132.5">Ascl1</text></g>
<g id="n-hoxb1"><rect class="b" x="313" y="1135" width="47" height="17"/><text class="l" x="336.5" y="1146.5">Hoxb1</text></g>
<g id="n-phox2b"><rect class="b" x="149" y="1162" width="47" height="18"/><text class="l" x="172.5" y="1174">Phox2b</text></g>
<g id="n-mpz"><rect class="b" x="245" y="1154" width="48" height="18"/><text class="l" x="269" y="1166">Mpz</text></g>
<g id="n-pmp22"><rect class="b" x="244" y="1178" width="48" height="17"/><text class="l" x="268" y="1189.5">Pmp22</text></g>
<g id="n-mbp"><rect class="b" x="244" y="1206" width="48" height="18"/><text class="l" x="268" y="1218">Mbp</text></g>
<g id="n-lhx"><rect class="b" x="21" y="1185" width="48" height="17"/><text class="l" x="45" y="1196.5">Lhx1</text><rect class="b" x="21" y="1202" width="48" height="17"/><text class="l" x="45" y="1213.5">Lhx2</text></g>
<g id="n-olig"><rect class="b" x="132" y="1193" width="47" height="17"/><text class="l" x="155.5" y="1204.5">Olig1</text><rect class="b" x="132" y="1210" width="47" height="17"/><text class="l" x="155.5" y="1221.5">Olig2</text></g>
<g id="n-olig3"><rect class="b" x="132" y="1231" width="47" height="17"/><text class="l" x="155.5" y="1242.5">Olig3</text></g>

<g id="n-sox10me"><rect class="b" x="420" y="1011" width="48" height="17"/><text class="l" x="444" y="1022.5">Sox10</text></g>
<g id="n-pax37me"><rect class="b" x="421" y="1050" width="48" height="17"/><text class="l" x="445" y="1061.5">Pax3</text><rect class="b" x="421" y="1067" width="48" height="17"/><text class="l" x="445" y="1078.5">Pax7</text></g>
<g id="n-mitfme"><rect class="b" x="526" y="1058" width="47" height="18"/><text class="l" x="549.5" y="1070">Mitf</text></g>
<g id="n-sox5me"><rect class="b" x="421" y="1101" width="48" height="17"/><text class="l" x="445" y="1112.5">Sox5</text></g>
<g id="n-ctbp2"><rect class="b" x="485" y="1101" width="47" height="17"/><text class="l" x="508.5" y="1112.5">Ctbp2</text></g>
<g id="n-hdac1-6">
  <rect class="b" x="402" y="1146" width="48" height="17.3"/><text class="l" x="426" y="1157.6">HDAC1</text>
  <rect class="b" x="402" y="1163.3" width="48" height="17.3"/><text class="l" x="426" y="1174.9">Hdac2</text>
  <rect class="b" x="402" y="1180.6" width="48" height="17.3"/><text class="l" x="426" y="1192.2">Hdac3</text>
  <rect class="b" x="402" y="1197.9" width="48" height="17.3"/><text class="l" x="426" y="1209.5">Hdac4</text>
  <rect class="b" x="402" y="1215.2" width="48" height="17.3"/><text class="l" x="426" y="1226.8">Hdac5</text>
  <rect class="b" x="402" y="1232.5" width="48" height="17.3"/><text class="l" x="426" y="1244.1">Hdac6</text></g>
<g id="n-hdac7-11">
  <rect class="b" x="464" y="1146" width="47" height="17.2"/><text class="l" x="487.5" y="1157.6">Hdac7</text>
  <rect class="b" x="464" y="1163.2" width="47" height="17.2"/><text class="l" x="487.5" y="1174.8">Hdac8</text>
  <rect class="b" x="464" y="1180.4" width="47" height="17.2"/><text class="l" x="487.5" y="1192">Hdac9</text>
  <rect class="b" x="464" y="1197.6" width="47" height="17.2"/><text class="l" x="487.5" y="1209.2">Hdac10</text>
  <rect class="b" x="464" y="1214.8" width="47" height="17.2"/><text class="l" x="487.5" y="1226.4">Hdac11</text></g>
<g id="n-dct"><rect class="b" x="559" y="1179" width="48" height="18"/><text class="l" x="583" y="1191">Dct</text></g>

<g id="n-sox9c"><rect class="b" x="707" y="1017" width="48" height="17"/><text class="l" x="731" y="1028.5">Sox9</text></g>
<g id="n-col11a2"><rect class="b" x="792" y="1041" width="48" height="17"/><text class="l" x="816" y="1052.5">Col11a2</text></g>
<g id="n-rbpj"><rect class="b" x="637" y="1056" width="52" height="18"/><text class="l" x="663" y="1068">Rbpj</text></g>
<g id="n-sox5c"><rect class="b" x="707" y="1069" width="48" height="17"/><text class="l" x="731" y="1080.5">Sox5</text></g>
<g id="n-hesc"><rect class="grp" x="628" y="1093" width="66" height="47" fill="#f3efc4"/>
  <rect class="b" x="636" y="1099" width="52" height="17"/><text class="l" x="662" y="1110.5">Hes1</text>
  <rect class="b" x="636" y="1116" width="52" height="17"/><text class="l" x="662" y="1127.5">Hes5</text></g>
<g id="n-col2a1"><rect class="b" x="792" y="1115" width="48" height="18"/><text class="l" x="816" y="1127">Col2a1</text></g>
<g id="n-mia1"><rect class="b" x="792" y="1187" width="48" height="17"/><text class="l" x="816" y="1198.5">Mia1</text></g>
</svg>
